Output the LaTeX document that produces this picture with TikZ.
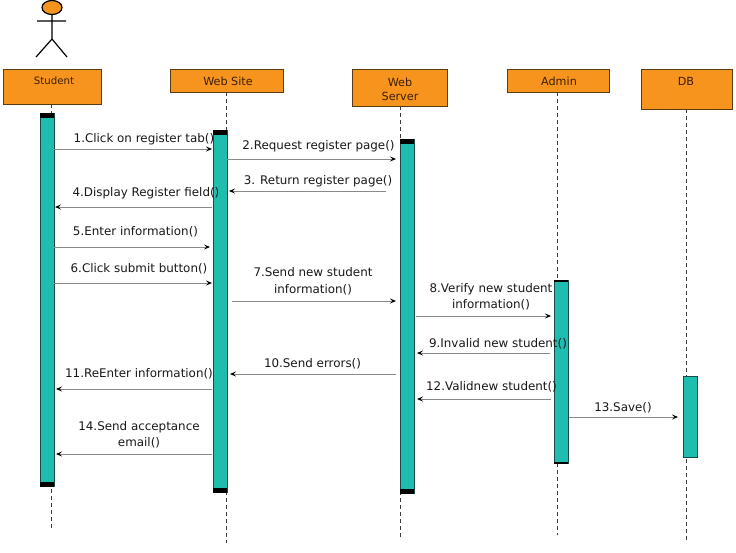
\documentclass[tikz,border=0pt]{standalone}
\usepackage{fontspec}
\setmainfont{DejaVu Sans}
\usetikzlibrary{arrows.meta}
\definecolor{boxfill}{HTML}{F7941E}
\definecolor{boxline}{HTML}{5A3A12}
\definecolor{boxtext}{HTML}{3D1F00}
\definecolor{barfill}{HTML}{1FBDB0}
\definecolor{barline}{HTML}{1A4A45}
\definecolor{msgline}{HTML}{8A8A8A}
\definecolor{lifeline}{HTML}{3A3A3A}
\tikzset{
  objbox/.style={draw=boxline, fill=boxfill, line width=1pt, inner sep=0pt},
  objtext/.style={text=boxtext, font=\fontsize{11.2}{14}\selectfont, inner sep=0pt, align=center},
  actbar/.style={draw=barline, fill=barfill, line width=0.8pt},
  capbar/.style={fill=black},
  life/.style={draw=lifeline, line width=0.9pt, dash pattern=on 4pt off 3pt},
  msg/.style={draw=msgline, line width=0.8pt, -{Stealth[length=6pt,width=5pt,inset=2.5pt,black]}},
  lbl/.style={font=\fontsize{11.9}{16.5}\selectfont, text=black!90, inner sep=0pt, align=center},
}
\begin{document}
\begin{tikzpicture}[x=1pt,y=-1pt]
\useasboundingbox[fill=white] (0,0) rectangle (736,552);

% actor stick figure
\draw[line width=1.2pt, fill=boxfill] (52,7.5) ellipse [x radius=10, y radius=7];
\draw[line width=1.2pt] (52,14.5) -- (52,39) (37,21) -- (66,21)
  (36,57) -- (52,39) -- (67,57);

% object boxes
\node[objbox, minimum width=98pt, minimum height=35pt] (student) at (52,86.5) {};
\node[objtext] (studenttxt) at (54,81) {\fontsize{10.2}{12}\selectfont Student};
\node[objbox, minimum width=113pt, minimum height=23pt] (website) at (226.5,80.5) {};
\node[objtext] (websitetxt) at (228,81) {Web Site};
\node[objbox, minimum width=95pt, minimum height=37pt] (server) at (399.5,87.5) {};
\node[objtext] (servertxt) at (400,89) {Web\\Server};
\node[objbox, minimum width=102pt, minimum height=23pt] (admin) at (558,80.5) {};
\node[objtext] (admintxt) at (559,81) {Admin};
\node[objbox, minimum width=91pt, minimum height=40pt] (db) at (686.5,89) {};
\node[objtext] (dbtxt) at (686,81) {DB};

% lifelines
\coordinate (sl) at (51,528);
\coordinate (wl) at (226,543);
\coordinate (vl) at (400,540);
\coordinate (al) at (557,535);
\coordinate (dl) at (686,543);
\draw[life] (51,104) -- (sl);
\draw[life] (226,92) -- (wl);
\draw[life] (400,106) -- (vl);
\draw[life] (557,92) -- (al);
\draw[life] (686,109) -- (dl);

% activation bars
\draw[actbar] (40,113) rectangle (54,486);
\fill[capbar] (40,113) rectangle (54,117.5);
\fill[capbar] (40,482) rectangle (54,486.5);
\draw[actbar] (213,130) rectangle (227,492);
\fill[capbar] (213,130) rectangle (227,134.5);
\fill[capbar] (213,488) rectangle (227,492.5);
\draw[actbar] (400,139) rectangle (414,493);
\fill[capbar] (400,139) rectangle (414,143.5);
\fill[capbar] (400,489) rectangle (414,493.5);
\draw[actbar] (554,280) rectangle (568,463);
\fill[capbar] (554,280) rectangle (568,282);
\fill[capbar] (554,461.5) rectangle (568,463.5);
\draw[actbar] (683,376) rectangle (697,457);

% message end points
\coordinate (m1s) at (54,149);  \coordinate (m1e) at (212,149);
\coordinate (m2s) at (227,159); \coordinate (m2e) at (396,159);
\coordinate (m3s) at (386,191); \coordinate (m3e) at (229,191);
\coordinate (m4s) at (212,207); \coordinate (m4e) at (55,207);
\coordinate (m5s) at (53,247);  \coordinate (m5e) at (210,247);
\coordinate (m6s) at (54,283);  \coordinate (m6e) at (212,283);
\coordinate (m7s) at (232,301); \coordinate (m7e) at (396,301);
\coordinate (m8s) at (416,316); \coordinate (m8e) at (551,316);
\coordinate (m9s) at (550,353); \coordinate (m9e) at (417,353);
\coordinate (m10s) at (396,374); \coordinate (m10e) at (230,374);
\coordinate (m11s) at (212,389); \coordinate (m11e) at (56,389);
\coordinate (m12s) at (551,399); \coordinate (m12e) at (417,399);
\coordinate (m13s) at (569,417); \coordinate (m13e) at (678,417);
\coordinate (m14s) at (212,454); \coordinate (m14e) at (56,454);

\foreach \i in {1,...,14} {\draw[msg] (m\i s) -- (m\i e);}

% labels
\node[lbl] (l1) at (144,139) {1.Click on register tab()};
\node[lbl] (l2) at (318.5,146) {2.Request register page()};
\node[lbl] (l3) at (318,181) {3. Return register page()};
\node[lbl] (l4) at (146,193) {4.Display Register field()};
\node[lbl] (l5) at (135.5,232) {5.Enter information()};
\node[lbl] (l6) at (139,269) {6.Click submit button()};
\node[lbl] (l7) at (313,281.5) {7.Send new student\\information()};
\node[lbl] (l8) at (491,297) {8.Verify new student\\information()};
\node[lbl] (l9) at (498,344) {9.Invalid new student()};
\node[lbl] (l10) at (312.5,364) {10.Send errors()};
\node[lbl] (l11) at (139,374) {11.ReEnter information()};
\node[lbl] (l12) at (491.5,387) {12.Validnew student()};
\node[lbl] (l13) at (623,408) {13.Save()};
\node[lbl] (l14) at (139,435) {14.Send acceptance\\email()};
\end{tikzpicture}
\end{document}
